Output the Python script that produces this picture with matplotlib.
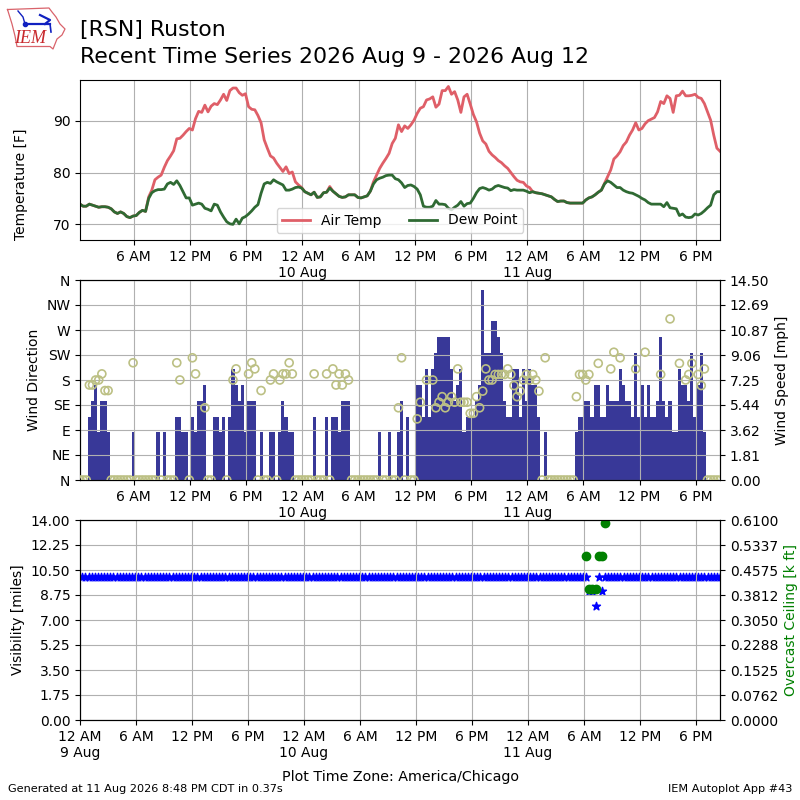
import numpy as np
import pandas as pd
import matplotlib
matplotlib.use("Agg")
import matplotlib.pyplot as plt
import matplotlib.dates as mdates
from matplotlib.ticker import FuncFormatter

n = float("nan")

times = pd.date_range("2026-08-09 00:15", periods=206, freq="20min")

dew_point = [
    73.9,73.5,73.5,73.9,73.7,73.5,73.3,73.4,73.4,73.3,
    73.0,72.4,72.1,72.4,72.1,71.5,71.3,71.6,71.7,72.3,
    72.7,72.5,75.0,76.1,76.5,76.7,76.7,76.8,77.8,78.1,
    77.7,78.4,77.5,76.3,75.1,75.1,73.7,73.9,74.1,73.9,
    73.1,72.9,72.6,73.9,73.7,72.4,71.4,70.5,70.1,70.0,
    71.0,70.1,71.2,71.5,72.0,72.6,73.3,73.8,76.0,77.8,
    78.1,77.9,78.6,78.2,77.9,77.6,76.6,76.6,76.8,77.1,
    77.2,77.0,76.3,76.0,75.7,76.2,75.2,75.3,76.1,
    76.2,77.0,76.4,75.9,75.4,75.2,75.3,75.7,75.7,75.7,
    75.2,75.1,75.3,75.5,76.4,77.8,78.6,78.9,79.1,79.4,
    79.5,79.5,78.8,78.6,78.0,77.1,77.5,77.6,77.3,76.8,
    75.7,73.5,73.3,73.3,73.5,74.6,73.9,73.9,73.8,73.1,
    72.8,73.3,73.7,74.4,73.5,74.0,74.1,75.0,76.1,76.9,
    77.1,76.9,76.6,76.8,77.3,77.5,77.3,77.1,77.0,76.5,
    76.7,76.6,76.6,76.6,76.4,76.1,76.3,76.1,76.0,75.9,
    75.7,75.5,75.3,74.8,74.4,74.5,74.5,74.2,74.1,74.1,
    74.1,74.1,74.1,74.7,75.1,75.3,75.7,76.2,76.6,77.8,
    78.4,78.1,77.6,77.1,77.1,76.6,76.3,76.1,76.0,75.7,
    75.4,75.0,74.7,74.2,73.9,73.9,73.9,73.9,73.4,74.2,
    73.2,73.1,73.0,71.7,72.0,71.4,71.3,71.4,72.0,71.8,
    72.1,72.6,73.2,73.7,75.7,76.3,76.3,
]

air_temp = [
    73.9,73.5,73.5,73.9,73.7,73.5,73.3,73.4,73.4,73.3,
    73.0,72.4,72.1,72.4,72.1,71.5,71.3,71.6,71.7,72.3,
    72.7,72.5,75.3,76.6,78.6,79.1,79.5,81.0,82.3,83.2,
    84.2,86.5,86.6,87.2,87.9,88.5,88.2,90.4,91.8,91.6,
    93.0,91.7,92.8,93.3,93.1,94.0,95.1,93.9,95.8,96.3,
    96.3,95.4,94.9,95.2,92.7,92.2,92.1,91.0,89.6,86.3,
    84.7,83.2,82.8,81.8,81.0,80.2,81.1,79.8,80.1,78.2,
    77.6,77.1,76.3,76.0,75.7,76.2,75.2,75.3,76.1,
    76.2,77.3,76.4,75.9,75.4,75.2,75.3,75.7,75.7,75.7,
    75.2,75.1,75.3,75.5,76.4,78.2,79.5,80.8,81.8,82.7,
    83.7,85.6,86.6,89.2,87.9,89.0,88.5,89.2,90.1,91.4,
    92.4,92.7,94.0,94.2,94.6,92.6,93.2,95.8,95.8,96.6,
    95.1,95.6,94.0,91.6,94.6,95.1,93.2,91.2,89.8,87.6,
    86.1,85.5,84.1,83.4,82.9,82.3,81.9,81.3,80.8,80.0,
    79.2,78.5,78.2,78.1,77.4,77.1,76.3,76.1,76.0,75.9,
    75.7,75.5,75.3,74.8,74.4,74.5,74.5,74.2,74.1,74.1,
    74.1,74.1,74.1,74.7,75.1,75.3,75.7,76.2,76.6,77.9,
    79.2,80.5,82.6,83.2,84.0,85.2,85.9,87.2,88.2,89.6,
    88.2,88.5,89.4,90.0,90.3,90.6,91.7,93.7,93.3,94.8,
    94.3,91.6,94.8,94.9,95.7,94.8,94.8,94.9,95.1,94.5,
    94.3,93.3,91.7,90.1,87.2,84.7,84.1,
]

wind_speed_kt = [
    0,0,0,4,5,6,3,5,5,3,
    0,0,0,0,0,0,0,3,0,0,
    0,0,0,0,0,3,0,3,0,0,
    0,4,4,3,3,0,4,3,5,5,
    6,0,0,4,4,3,4,0,4,7,
    6,5,6,3,5,5,5,0,3,0,
    0,3,3,0,3,5,4,3,3,0,
    0,0,0,0,0,4,0,0,0,4,
    0,4,4,3,5,5,5,0,0,0,
    0,0,0,0,0,0,3,0,0,3,
    0,0,3,5,0,4,0,0,6,6,
    4,7,4,7,8,9,9,9,9,7,
    5,6,7,3,4,4,4,5,6,12,
    8,8,10,10,9,8,5,4,4,7,
    7,4,7,5,7,6,6,4,0,3,
    0,0,0,0,0,0,0,0,0,3,
    4,4,5,5,4,6,6,4,4,6,
    5,5,5,7,6,5,5,4,8,4,
    6,4,6,4,4,5,9,5,4,5,
    3,3,7,6,6,5,8,4,6,8,
    3,0,0,0,0,0,
]

wind_dir = [
    0,0,0,171,171,180,180,191,161,161,
    0,0,0,0,0,0,0,211,0,0,
    0,0,0,0,0,n,0,n,0,0,
    0,211,180,n,n,0,220,191,n,n,
    130,0,0,n,n,n,n,0,n,180,
    200,n,n,n,191,211,200,0,161,0,
    0,180,191,0,180,191,191,211,191,0,
    0,0,0,0,0,191,0,0,0,191,
    0,200,171,191,171,191,180,0,0,0,
    0,0,0,0,0,0,n,0,0,n,
    0,0,130,220,0,n,0,0,110,140,
    n,180,n,180,130,140,150,130,140,150,
    140,200,140,140,140,120,120,150,130,160,
    200,180,180,190,190,190,190,200,190,170,
    150,160,180,190,180,190,180,160,0,220,
    0,0,0,0,0,0,0,0,0,150,
    190,190,180,190,n,n,210,n,n,n,
    200,230,n,220,n,n,n,n,200,n,
    n,230,n,n,n,n,190,n,n,290,
    n,n,210,n,180,190,210,n,190,170,
    200,0,0,0,0,0,
]

visibility = [10]*163 + [9, 9, 8, 10, 9] + [10]*38
ceiling_k_ft = [n]*162 + [0.5, 0.4, 0.4, 0.4, 0.5, 0.5, 0.6] + [n]*37

temp_ticks = [70, 80, 90]
dir_ticks = [0, 45, 90, 135, 180, 225, 270, 315, 360]
dir_labels = ["N", "NE", "E", "SE", "S", "SW", "W", "NW", "N"]
speed_ticks = [0.00, 1.81, 3.62, 5.44, 7.25, 9.06, 10.87, 12.69, 14.50]
vis_ticks = [0.00, 1.75, 3.50, 5.25, 7.00, 8.75, 10.50, 12.25, 14.00]
ceil_ticks = [0.0000, 0.0762, 0.1525, 0.2288, 0.3050, 0.3812, 0.4575, 0.5337, 0.6100]

wind_speed_mph = np.array(wind_speed_kt) * 1.15078


def fmt(x, pos=None):
    d = mdates.num2date(x)
    h = d.hour
    h12 = 12 if h % 12 == 0 else h % 12
    s = f"{h12} {'AM' if h < 12 else 'PM'}"
    if h == 0:
        s += f"\n{d.day} {d.strftime('%b')}"
    return s


def xfmt(ax, start):
    ax.xaxis.set_major_locator(mdates.HourLocator(byhour=[0, 6, 12, 18]))
    ax.xaxis.set_major_formatter(FuncFormatter(fmt))
    ax.set_xlim(start, times[-1])
    ax.grid(True)


fig = plt.figure(figsize=(8, 8), dpi=100)

# Temperature
ax1 = fig.add_axes([0.1, 0.7, 0.8, 0.2])
ax1.plot(times, air_temp, color="#df5f68", lw=2, label="Air Temp")
ax1.plot(times, dew_point, color="#2f6a33", lw=2, label="Dew Point")
ax1.set_ylim(66.98, 97.85)
ax1.set_yticks(temp_ticks)
ax1.set_ylabel("Temperature [F]")
ax1.yaxis.set_label_coords(-0.081, 0.35)
xfmt(ax1, times[0])
ax1.legend(loc="lower center", ncol=2)

# Wind
ax2 = fig.add_axes([0.1, 0.4, 0.8, 0.25])
ax2b = ax2.twinx()
ax2.set_zorder(2)
ax2b.set_zorder(1)
ax2.patch.set_visible(False)
ax2b.bar(times, wind_speed_mph, width=20 / 1440, color="#383898", linewidth=0)
ax2b.set_ylim(0, 14.5)
ax2b.set_yticks(speed_ticks)
ax2b.set_yticklabels([f"{v:.2f}" for v in speed_ticks])
ax2b.set_ylabel("Wind Speed [mph]")
ax2.scatter(times, wind_dir, facecolor="none", edgecolor="#bcc084", s=33, linewidths=1.2, zorder=3)
ax2.set_ylim(0, 360)
ax2.set_yticks(dir_ticks)
ax2.set_yticklabels(dir_labels)
ax2.set_ylabel("Wind Direction")
xfmt(ax2, times[0])

# Visibility / ceiling
ax3 = fig.add_axes([0.1, 0.1, 0.8, 0.25])
ax3b = ax3.twinx()
ax3.set_zorder(1)
ax3b.set_zorder(2)
ax3b.patch.set_visible(False)
ax3.scatter(times, visibility, marker="*", color="blue", s=36)
ax3.set_ylim(0, 14)
ax3.set_yticks(vis_ticks)
ax3.set_yticklabels([f"{v:.2f}" for v in vis_ticks])
ax3.set_ylabel("Visibility [miles]")
ax3b.scatter(times, ceiling_k_ft, marker="o", color="green", s=36)
ax3b.set_ylim(0, 0.61)
ax3b.set_yticks(ceil_ticks)
ax3b.set_yticklabels([f"{v:.4f}" for v in ceil_ticks])
ax3b.set_ylabel("Overcast Ceiling [k ft]", color="green")
xfmt(ax3, pd.Timestamp("2026-08-09 00:00"))
ax3b.set_xlim(ax3.get_xlim())
ax3.set_xlabel("Plot Time Zone: America/Chicago", fontsize=10.3, labelpad=7.5)

# Titles and footers
fig.text(0.1, 1 - 30 / 800, "[RSN] Ruston", fontsize=15.8, ha="left", va="center")
fig.text(0.1, 1 - 57 / 800, "Recent Time Series 2026 Aug 9 - 2026 Aug 12", fontsize=15.8, ha="left", va="center")
fig.text(0.01, 0.008, "Generated at 11 Aug 2026 8:48 PM CDT in 0.37s", fontsize=8.15, ha="left", va="bottom")
fig.text(0.99, 0.008, "IEM Autoplot App #43", fontsize=8.15, ha="right", va="bottom")

# Logo
logo = fig.add_axes([0, 1 - 60 / 800, 120 / 800, 60 / 800])
logo.set_xlim(0, 120)
logo.set_ylim(60, 0)
logo.axis("off")
outline_x = [7.5, 49, 52, 56, 60, 65, 62, 57, 55, 53, 50, 17, 15, 12, 7.5]
outline_y = [9.5, 8, 12, 17, 24, 29, 35, 39, 44, 49, 46.5, 46.5, 36, 24, 9.5]
logo.plot(outline_x, outline_y, color="#d9636b", lw=0.9)
logo.plot([25, 50], [24, 24], color="#1020c0", lw=1.6)
logo.plot([18, 23, 25], [11, 17, 24], color="#1020c0", lw=1)
logo.plot([40, 50, 45], [15, 20, 24], color="#1020c0", lw=1.6)
logo.plot([50, 51], [24, 32], color="#1020c0", lw=1.2)
logo.plot([25], [24], "o", color="#1020c0", ms=3)
logo.text(30.5, 38.5, "IEM", family="Liberation Serif", style="italic", color="#c8282c",
          fontsize=13, ha="center", va="center")

fig.savefig("out.png", dpi=100)
